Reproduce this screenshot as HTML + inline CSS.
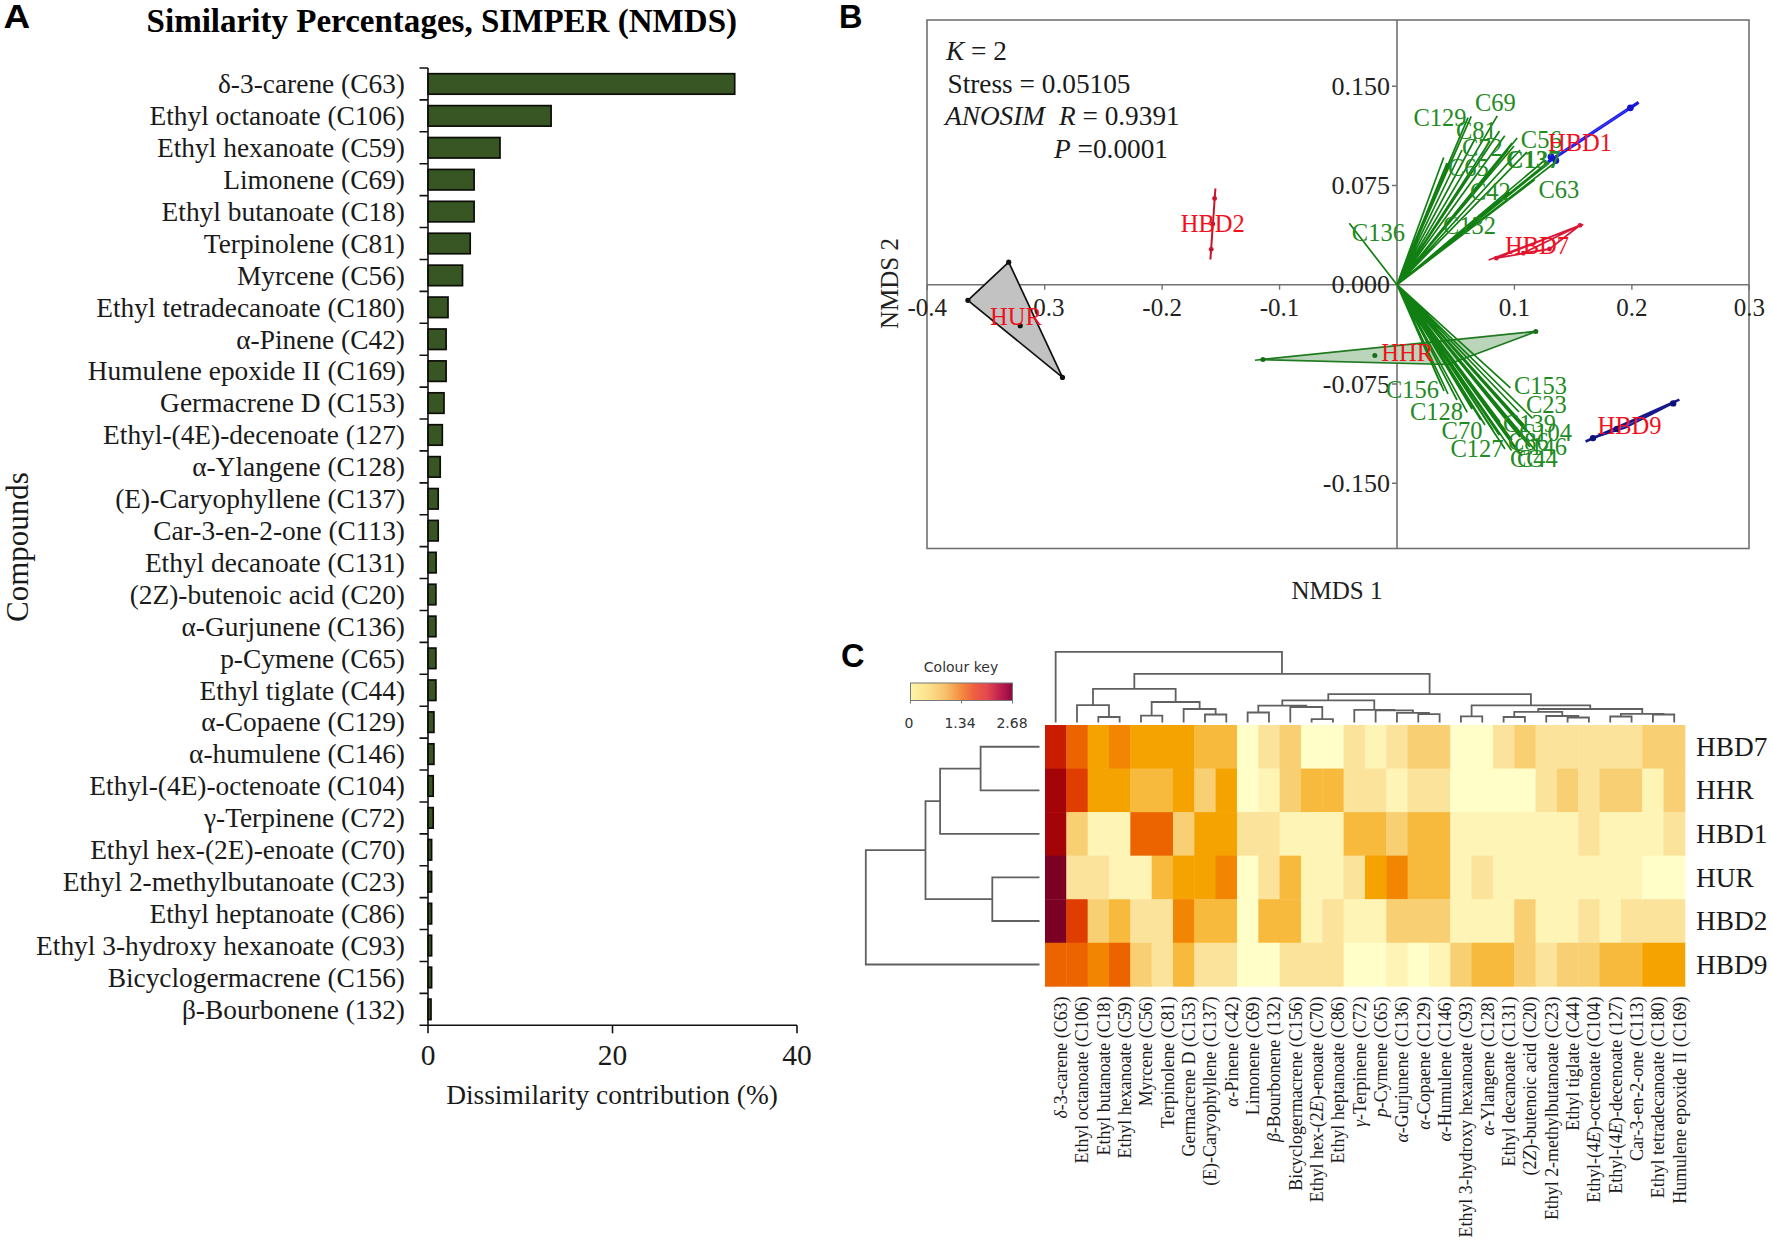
<!DOCTYPE html>
<html><head><meta charset="utf-8"><title>SIMPER / NMDS / heatmap</title>
<style>
html,body{margin:0;padding:0;background:#fff;}
body{width:1772px;height:1243px;overflow:hidden;}
svg{display:block;}
</style></head>
<body>
<svg width="1772" height="1243" viewBox="0 0 1772 1243">
<rect width="1772" height="1243" fill="#fff"/>
<text transform="translate(3.6 28.3) scale(1.12 1)" font-family="'Liberation Sans', Arial, sans-serif" font-weight="bold" font-size="33">A</text>
<text x="146.6" y="32.2" font-family="'Liberation Serif', 'Times New Roman', serif" font-weight="bold" font-size="33.05">Similarity Percentages, SIMPER (NMDS)</text>
<rect x="428" y="73.7" width="306.7" height="20.5" fill="#375624" stroke="#0d0d08" stroke-width="1.7"/>
<text x="405" y="93.25" text-anchor="end" font-family="'Liberation Serif', 'Times New Roman', serif" font-size="27.4" fill="#1a1a1a"><tspan>δ</tspan>-3-carene (C63)</text>
<rect x="428" y="105.62" width="123.1" height="20.5" fill="#375624" stroke="#0d0d08" stroke-width="1.7"/>
<text x="405" y="125.17" text-anchor="end" font-family="'Liberation Serif', 'Times New Roman', serif" font-size="27.4" fill="#1a1a1a">Ethyl octanoate (C106)</text>
<rect x="428" y="137.53" width="72" height="20.5" fill="#375624" stroke="#0d0d08" stroke-width="1.7"/>
<text x="405" y="157.08" text-anchor="end" font-family="'Liberation Serif', 'Times New Roman', serif" font-size="27.4" fill="#1a1a1a">Ethyl hexanoate (C59)</text>
<rect x="428" y="169.44" width="46.1" height="20.5" fill="#375624" stroke="#0d0d08" stroke-width="1.7"/>
<text x="405" y="188.99" text-anchor="end" font-family="'Liberation Serif', 'Times New Roman', serif" font-size="27.4" fill="#1a1a1a">Limonene (C69)</text>
<rect x="428" y="201.34" width="46.1" height="20.5" fill="#375624" stroke="#0d0d08" stroke-width="1.7"/>
<text x="405" y="220.9" text-anchor="end" font-family="'Liberation Serif', 'Times New Roman', serif" font-size="27.4" fill="#1a1a1a">Ethyl butanoate (C18)</text>
<rect x="428" y="233.25" width="42.2" height="20.5" fill="#375624" stroke="#0d0d08" stroke-width="1.7"/>
<text x="405" y="252.81" text-anchor="end" font-family="'Liberation Serif', 'Times New Roman', serif" font-size="27.4" fill="#1a1a1a">Terpinolene (C81)</text>
<rect x="428" y="265.16" width="34.5" height="20.5" fill="#375624" stroke="#0d0d08" stroke-width="1.7"/>
<text x="405" y="284.71" text-anchor="end" font-family="'Liberation Serif', 'Times New Roman', serif" font-size="27.4" fill="#1a1a1a">Myrcene (C56)</text>
<rect x="428" y="297.07" width="20" height="20.5" fill="#375624" stroke="#0d0d08" stroke-width="1.7"/>
<text x="405" y="316.62" text-anchor="end" font-family="'Liberation Serif', 'Times New Roman', serif" font-size="27.4" fill="#1a1a1a">Ethyl tetradecanoate (C180)</text>
<rect x="428" y="328.99" width="18.1" height="20.5" fill="#375624" stroke="#0d0d08" stroke-width="1.7"/>
<text x="405" y="348.54" text-anchor="end" font-family="'Liberation Serif', 'Times New Roman', serif" font-size="27.4" fill="#1a1a1a">α-Pinene (C42)</text>
<rect x="428" y="360.89" width="18.1" height="20.5" fill="#375624" stroke="#0d0d08" stroke-width="1.7"/>
<text x="405" y="380.44" text-anchor="end" font-family="'Liberation Serif', 'Times New Roman', serif" font-size="27.4" fill="#1a1a1a">Humulene epoxide II (C169)</text>
<rect x="428" y="392.81" width="16" height="20.5" fill="#375624" stroke="#0d0d08" stroke-width="1.7"/>
<text x="405" y="412.36" text-anchor="end" font-family="'Liberation Serif', 'Times New Roman', serif" font-size="27.4" fill="#1a1a1a">Germacrene D (C153)</text>
<rect x="428" y="424.71" width="14.3" height="20.5" fill="#375624" stroke="#0d0d08" stroke-width="1.7"/>
<text x="405" y="444.26" text-anchor="end" font-family="'Liberation Serif', 'Times New Roman', serif" font-size="27.4" fill="#1a1a1a">Ethyl-(4E)-decenoate (127)</text>
<rect x="428" y="456.62" width="12.2" height="20.5" fill="#375624" stroke="#0d0d08" stroke-width="1.7"/>
<text x="405" y="476.18" text-anchor="end" font-family="'Liberation Serif', 'Times New Roman', serif" font-size="27.4" fill="#1a1a1a">α-Ylangene (C128)</text>
<rect x="428" y="488.54" width="10.2" height="20.5" fill="#375624" stroke="#0d0d08" stroke-width="1.7"/>
<text x="405" y="508.09" text-anchor="end" font-family="'Liberation Serif', 'Times New Roman', serif" font-size="27.4" fill="#1a1a1a">(E)-Caryophyllene (C137)</text>
<rect x="428" y="520.44" width="10.2" height="20.5" fill="#375624" stroke="#0d0d08" stroke-width="1.7"/>
<text x="405" y="539.99" text-anchor="end" font-family="'Liberation Serif', 'Times New Roman', serif" font-size="27.4" fill="#1a1a1a">Car-3-en-2-one (C113)</text>
<rect x="428" y="552.36" width="8.1" height="20.5" fill="#375624" stroke="#0d0d08" stroke-width="1.7"/>
<text x="405" y="571.9" text-anchor="end" font-family="'Liberation Serif', 'Times New Roman', serif" font-size="27.4" fill="#1a1a1a">Ethyl decanoate (C131)</text>
<rect x="428" y="584.26" width="7.9" height="20.5" fill="#375624" stroke="#0d0d08" stroke-width="1.7"/>
<text x="405" y="603.81" text-anchor="end" font-family="'Liberation Serif', 'Times New Roman', serif" font-size="27.4" fill="#1a1a1a">(2Z)-butenoic acid (C20)</text>
<rect x="428" y="616.17" width="7.9" height="20.5" fill="#375624" stroke="#0d0d08" stroke-width="1.7"/>
<text x="405" y="635.72" text-anchor="end" font-family="'Liberation Serif', 'Times New Roman', serif" font-size="27.4" fill="#1a1a1a">α-Gurjunene (C136)</text>
<rect x="428" y="648.09" width="7.9" height="20.5" fill="#375624" stroke="#0d0d08" stroke-width="1.7"/>
<text x="405" y="667.63" text-anchor="end" font-family="'Liberation Serif', 'Times New Roman', serif" font-size="27.4" fill="#1a1a1a">p-Cymene (C65)</text>
<rect x="428" y="680" width="7.9" height="20.5" fill="#375624" stroke="#0d0d08" stroke-width="1.7"/>
<text x="405" y="699.54" text-anchor="end" font-family="'Liberation Serif', 'Times New Roman', serif" font-size="27.4" fill="#1a1a1a">Ethyl tiglate (C44)</text>
<rect x="428" y="711.9" width="5.9" height="20.5" fill="#375624" stroke="#0d0d08" stroke-width="1.7"/>
<text x="405" y="731.45" text-anchor="end" font-family="'Liberation Serif', 'Times New Roman', serif" font-size="27.4" fill="#1a1a1a">α-Copaene (C129)</text>
<rect x="428" y="743.82" width="5.9" height="20.5" fill="#375624" stroke="#0d0d08" stroke-width="1.7"/>
<text x="405" y="763.37" text-anchor="end" font-family="'Liberation Serif', 'Times New Roman', serif" font-size="27.4" fill="#1a1a1a">α-humulene (C146)</text>
<rect x="428" y="775.73" width="5.2" height="20.5" fill="#375624" stroke="#0d0d08" stroke-width="1.7"/>
<text x="405" y="795.27" text-anchor="end" font-family="'Liberation Serif', 'Times New Roman', serif" font-size="27.4" fill="#1a1a1a">Ethyl-(4E)-octenoate (C104)</text>
<rect x="428" y="807.63" width="5.2" height="20.5" fill="#375624" stroke="#0d0d08" stroke-width="1.7"/>
<text x="405" y="827.18" text-anchor="end" font-family="'Liberation Serif', 'Times New Roman', serif" font-size="27.4" fill="#1a1a1a">γ-Terpinene (C72)</text>
<rect x="428" y="839.54" width="3.6" height="20.5" fill="#375624" stroke="#0d0d08" stroke-width="1.7"/>
<text x="405" y="859.09" text-anchor="end" font-family="'Liberation Serif', 'Times New Roman', serif" font-size="27.4" fill="#1a1a1a">Ethyl hex-(2E)-enoate (C70)</text>
<rect x="428" y="871.46" width="3.6" height="20.5" fill="#375624" stroke="#0d0d08" stroke-width="1.7"/>
<text x="405" y="891" text-anchor="end" font-family="'Liberation Serif', 'Times New Roman', serif" font-size="27.4" fill="#1a1a1a">Ethyl 2-methylbutanoate (C23)</text>
<rect x="428" y="903.37" width="3.6" height="20.5" fill="#375624" stroke="#0d0d08" stroke-width="1.7"/>
<text x="405" y="922.91" text-anchor="end" font-family="'Liberation Serif', 'Times New Roman', serif" font-size="27.4" fill="#1a1a1a">Ethyl heptanoate (C86)</text>
<rect x="428" y="935.27" width="3.6" height="20.5" fill="#375624" stroke="#0d0d08" stroke-width="1.7"/>
<text x="405" y="954.82" text-anchor="end" font-family="'Liberation Serif', 'Times New Roman', serif" font-size="27.4" fill="#1a1a1a">Ethyl 3-hydroxy hexanoate (C93)</text>
<rect x="428" y="967.19" width="3.6" height="20.5" fill="#375624" stroke="#0d0d08" stroke-width="1.7"/>
<text x="405" y="986.74" text-anchor="end" font-family="'Liberation Serif', 'Times New Roman', serif" font-size="27.4" fill="#1a1a1a">Bicyclogermacrene (C156)</text>
<rect x="428" y="999.1" width="3" height="20.5" fill="#375624" stroke="#0d0d08" stroke-width="1.7"/>
<text x="405" y="1018.64" text-anchor="end" font-family="'Liberation Serif', 'Times New Roman', serif" font-size="27.4" fill="#1a1a1a">β-Bourbonene (132)</text>
<path d="M428 68V1025.3H797" fill="none" stroke="#111" stroke-width="1.6"/>
<path d="M419.5 68H428M419.5 99.91H428M419.5 131.82H428M419.5 163.73H428M419.5 195.64H428M419.5 227.55H428M419.5 259.46H428M419.5 291.37H428M419.5 323.28H428M419.5 355.19H428M419.5 387.1H428M419.5 419.01H428M419.5 450.92H428M419.5 482.83H428M419.5 514.74H428M419.5 546.65H428M419.5 578.56H428M419.5 610.47H428M419.5 642.38H428M419.5 674.29H428M419.5 706.2H428M419.5 738.11H428M419.5 770.02H428M419.5 801.93H428M419.5 833.84H428M419.5 865.75H428M419.5 897.66H428M419.5 929.57H428M419.5 961.48H428M419.5 993.39H428M419.5 1025.3H428" stroke="#111" stroke-width="1.6"/>
<path d="M428 1025.3v8" stroke="#111" stroke-width="1.6"/>
<text x="428" y="1065" text-anchor="middle" font-family="'Liberation Serif', 'Times New Roman', serif" font-size="29.5" fill="#1a1a1a">0</text>
<path d="M612.5 1025.3v8" stroke="#111" stroke-width="1.6"/>
<text x="612.5" y="1065" text-anchor="middle" font-family="'Liberation Serif', 'Times New Roman', serif" font-size="29.5" fill="#1a1a1a">20</text>
<path d="M797 1025.3v8" stroke="#111" stroke-width="1.6"/>
<text x="797" y="1065" text-anchor="middle" font-family="'Liberation Serif', 'Times New Roman', serif" font-size="29.5" fill="#1a1a1a">40</text>
<text x="612" y="1104" text-anchor="middle" font-family="'Liberation Serif', 'Times New Roman', serif" font-size="27.4" fill="#1a1a1a">Dissimilarity contribution (%)</text>
<text transform="translate(28 547) rotate(-90)" text-anchor="middle" font-family="'Liberation Serif', 'Times New Roman', serif" font-size="31" fill="#1a1a1a">Compounds</text>
<text x="839" y="28" font-family="'Liberation Sans', Arial, sans-serif" font-weight="bold" font-size="32.5">B</text>
<rect x="927" y="20" width="822" height="528.5" fill="none" stroke="#727272" stroke-width="1.6"/>
<path d="M927 284.7H1749M1397 20V548.5" stroke="#727272" stroke-width="1.6"/>
<path d="M927.28 284.7v5M1044.71 284.7v5M1162.14 284.7v5M1279.57 284.7v5M1514.43 284.7v5M1631.86 284.7v5M1749.29 284.7v5M1397 86.21h-5M1397 185.45h-5M1397 383.95h-5M1397 483.19h-5" stroke="#727272" stroke-width="1.4"/>
<text x="927.28" y="315.5" text-anchor="middle" font-family="'Liberation Serif', 'Times New Roman', serif" font-size="25" fill="#222">-0.4</text>
<text x="1044.71" y="315.5" text-anchor="middle" font-family="'Liberation Serif', 'Times New Roman', serif" font-size="25" fill="#222">-0.3</text>
<text x="1162.14" y="315.5" text-anchor="middle" font-family="'Liberation Serif', 'Times New Roman', serif" font-size="25" fill="#222">-0.2</text>
<text x="1279.57" y="315.5" text-anchor="middle" font-family="'Liberation Serif', 'Times New Roman', serif" font-size="25" fill="#222">-0.1</text>
<text x="1514.43" y="315.5" text-anchor="middle" font-family="'Liberation Serif', 'Times New Roman', serif" font-size="25" fill="#222">0.1</text>
<text x="1631.86" y="315.5" text-anchor="middle" font-family="'Liberation Serif', 'Times New Roman', serif" font-size="25" fill="#222">0.2</text>
<text x="1749.29" y="315.5" text-anchor="middle" font-family="'Liberation Serif', 'Times New Roman', serif" font-size="25" fill="#222">0.3</text>
<text x="1390" y="94.81" text-anchor="end" font-family="'Liberation Serif', 'Times New Roman', serif" font-size="26" fill="#222">0.150</text>
<text x="1390" y="194.05" text-anchor="end" font-family="'Liberation Serif', 'Times New Roman', serif" font-size="26" fill="#222">0.075</text>
<text x="1390" y="293.3" text-anchor="end" font-family="'Liberation Serif', 'Times New Roman', serif" font-size="26" fill="#222">0.000</text>
<text x="1390" y="392.55" text-anchor="end" font-family="'Liberation Serif', 'Times New Roman', serif" font-size="26" fill="#222">-0.075</text>
<text x="1390" y="491.79" text-anchor="end" font-family="'Liberation Serif', 'Times New Roman', serif" font-size="26" fill="#222">-0.150</text>
<text x="1337" y="598.8" text-anchor="middle" font-family="'Liberation Serif', 'Times New Roman', serif" font-size="25" fill="#222">NMDS 1</text>
<text transform="translate(898 283.5) rotate(-90)" text-anchor="middle" font-family="'Liberation Serif', 'Times New Roman', serif" font-size="25" fill="#222">NMDS 2</text>
<g font-family="'Liberation Serif', 'Times New Roman', serif" font-size="27.3" fill="#1a1a1a">
<text x="946" y="60.1"><tspan font-style="italic">K</tspan> = 2</text>
<text x="947.5" y="93.1">Stress = 0.05105</text>
<text x="945" y="124.6"><tspan font-style="italic">ANOSIM</tspan> <tspan font-style="italic" dx="7">R</tspan> = 0.9391</text>
<text x="1054" y="157.7"><tspan font-style="italic">P</tspan> =0.0001</text>
</g>
<polygon points="1008.7,262.2 967.9,300.3 1062.5,377.4" fill="#c2c2c2" stroke="#111" stroke-width="1.7" stroke-linejoin="round"/>
<circle cx="1008.7" cy="262.2" r="2.6" fill="#111"/>
<circle cx="967.9" cy="300.3" r="2.6" fill="#111"/>
<circle cx="1062.5" cy="377.4" r="2.6" fill="#111"/>
<circle cx="1020.2" cy="325.7" r="2.6" fill="#111"/>
<path d="M1215.4 188.5L1210.4 259.5" stroke="#c8142a" stroke-width="2"/>
<circle cx="1214.6" cy="198.4" r="2.4" fill="#c8142a"/>
<circle cx="1212.8" cy="224" r="2.4" fill="#c8142a"/>
<circle cx="1211.2" cy="249.3" r="2.4" fill="#c8142a"/>
<polygon points="1260.6,359.6 1448,364.5 1536.9,331.2" fill="#b2d0b2" fill-opacity="0.9" stroke="#217a21" stroke-width="1.7" stroke-linejoin="round"/>
<path d="M1397.0 284.7L1349.3 223.3M1397.0 284.7L1443.7 157.5M1397.0 284.7L1447 163M1397.0 284.7L1468 117.7M1397.0 284.7L1471.2 116.4M1397.0 284.7L1497.3 115.9M1397.0 284.7L1499.5 131M1397.0 284.7L1504.8 135.8M1397.0 284.7L1517.2 138M1397.0 284.7L1512 143M1397.0 284.7L1514 146M1397.0 284.7L1508 150M1397.0 284.7L1520 150M1397.0 284.7L1545 160M1397.0 284.7L1549 163M1397.0 284.7L1553 158M1397.0 284.7L1557 161M1397.0 284.7L1534.9 179.6M1397.0 284.7L1509.6 192M1397.0 284.7L1503 196M1397.0 284.7L1462 150M1397.0 284.7L1476 137M1397.0 284.7L1490 141M1397.0 284.7L1527 152M1397.0 284.7L1444 391M1397.0 284.7L1441 385M1397.0 284.7L1448 394M1397.0 284.7L1467.3 412.3M1397.0 284.7L1480.8 420M1397.0 284.7L1485 425M1397.0 284.7L1499.4 435.2M1397.0 284.7L1493 430M1397.0 284.7L1505 449M1397.0 284.7L1511.6 450.6M1397.0 284.7L1510.4 387.8M1397.0 284.7L1532.5 418.3M1397.0 284.7L1519 412M1397.0 284.7L1524 425M1397.0 284.7L1515 428M1397.0 284.7L1520 437M1397.0 284.7L1526 442M1397.0 284.7L1530 447M1397.0 284.7L1518 452M1397.0 284.7L1522 456M1397.0 284.7L1535 450M1397.0 284.7L1512 440M1397.0 284.7L1505 430M1397.0 284.7L1500 422M1397.0 284.7L1527 432M1397.0 284.7L1540 445M1397.0 284.7L1457 400M1397.0 284.7L1472 409" stroke="#127f12" stroke-width="1.7" fill="none"/>
<path d="M1255 360.2L1266 359" stroke="#127f12" stroke-width="1.6"/>
<circle cx="1263" cy="359.4" r="2.5" fill="#1a6e1a"/>
<circle cx="1535.8" cy="331.5" r="2.5" fill="#1a6e1a"/>
<circle cx="1374.8" cy="355.6" r="2.5" fill="#1a6e1a"/>
<path d="M1488.7 260L1583.3 224.5M1496.3 258.2L1580 225.3L1523.3 253.2L1549.5 249L1580 225.3M1496.3 258.2L1549.5 249" stroke="#d81838" stroke-width="1.8" fill="none"/>
<circle cx="1496.3" cy="258.2" r="2.4" fill="#d81838"/>
<circle cx="1580" cy="225.3" r="2.4" fill="#d81838"/>
<circle cx="1523.3" cy="253.2" r="2.4" fill="#d81838"/>
<circle cx="1549.5" cy="249" r="2.4" fill="#d81838"/>
<path d="M1548.2 161.9L1638.6 102.3" stroke="#1a1ae6" stroke-width="3.2" fill="none"/>
<path d="M1553 158L1631 107.5" stroke="#3a3af0" stroke-width="1.2" fill="none"/>
<circle cx="1630.4" cy="107.8" r="3.4" fill="#1414c8"/>
<circle cx="1555.8" cy="160.5" r="3.4" fill="#1414c8"/>
<circle cx="1551" cy="157" r="3.4" fill="#1414c8"/>
<path d="M1585.6 441.5L1679.4 399.6" stroke="#16168e" stroke-width="2.6" fill="none"/>
<path d="M1593 438.1L1673.2 403.4L1625 428Z" stroke="#16168e" stroke-width="1.6" fill="#4a4ab0"/>
<circle cx="1593" cy="438.1" r="3.2" fill="#10107a"/>
<circle cx="1673.2" cy="403.4" r="3.2" fill="#10107a"/>
<circle cx="1617" cy="429" r="3.2" fill="#10107a"/>
<g font-family="'Liberation Serif', 'Times New Roman', serif" font-size="24.5" fill="#238b23">
<text x="1413.5" y="125.6">C129</text>
<text x="1475" y="111.3">C69</text>
<text x="1456" y="139">C81</text>
<text x="1462" y="156">C72</text>
<text x="1448" y="175.5">C65</text>
<text x="1520.8" y="147.6">C56</text>
<text x="1470" y="200">C42</text>
<text x="1538.5" y="198">C63</text>
<text x="1443" y="233.7">C132</text>
<text x="1351.8" y="240.5">C136</text>
<text x="1514" y="394.3">C153</text>
<text x="1526" y="412.8">C23</text>
<text x="1386" y="398.3">C156</text>
<text x="1410" y="420">C128</text>
<text x="1441.6" y="439.3">C70</text>
<text x="1450.5" y="457">C127</text>
<text x="1503" y="432">C139</text>
<text x="1519" y="441">C104</text>
<text x="1514" y="454.6">C146</text>
<text x="1517" y="466.7">C44</text>
<text x="1510" y="466.7">CC</text>
<text x="1508" y="450">C86</text>
<text x="1506" y="168" font-weight="bold">C137</text>
</g>
<g font-family="'Liberation Serif', 'Times New Roman', serif" font-size="24.5" fill="#f2101c">
<text x="1548" y="150.5">HBD1</text>
<text x="1180.7" y="232">HBD2</text>
<text x="1505" y="254.4">HBD7</text>
<text x="990" y="324.6">HUR</text>
<text x="1381.3" y="360.5">HHR</text>
<text x="1597.5" y="434">HBD9</text>
</g>
<text x="841" y="667" font-family="'Liberation Sans', Arial, sans-serif" font-weight="bold" font-size="32.5">C</text>
<rect x="1045" y="725" width="21.73" height="43.95" fill="#C91D00"/>
<rect x="1045" y="768.55" width="21.73" height="43.95" fill="#A40408"/>
<rect x="1045" y="812.1" width="21.73" height="43.95" fill="#A40408"/>
<rect x="1045" y="855.65" width="21.73" height="43.95" fill="#7C0024"/>
<rect x="1045" y="899.2" width="21.73" height="43.95" fill="#7C0024"/>
<rect x="1045" y="942.75" width="21.73" height="43.95" fill="#EC6400"/>
<rect x="1066.33" y="725" width="21.73" height="43.95" fill="#EC6400"/>
<rect x="1066.33" y="768.55" width="21.73" height="43.95" fill="#E03E00"/>
<rect x="1066.33" y="812.1" width="21.73" height="43.95" fill="#F8D073"/>
<rect x="1066.33" y="855.65" width="21.73" height="43.95" fill="#FBE39B"/>
<rect x="1066.33" y="899.2" width="21.73" height="43.95" fill="#E03E00"/>
<rect x="1066.33" y="942.75" width="21.73" height="43.95" fill="#EC6400"/>
<rect x="1087.66" y="725" width="21.73" height="43.95" fill="#F4A300"/>
<rect x="1087.66" y="768.55" width="21.73" height="43.95" fill="#F4A300"/>
<rect x="1087.66" y="812.1" width="21.73" height="43.95" fill="#FDF4B5"/>
<rect x="1087.66" y="855.65" width="21.73" height="43.95" fill="#FBE39B"/>
<rect x="1087.66" y="899.2" width="21.73" height="43.95" fill="#F8D073"/>
<rect x="1087.66" y="942.75" width="21.73" height="43.95" fill="#F28602"/>
<rect x="1108.99" y="725" width="21.73" height="43.95" fill="#F28602"/>
<rect x="1108.99" y="768.55" width="21.73" height="43.95" fill="#F4A300"/>
<rect x="1108.99" y="812.1" width="21.73" height="43.95" fill="#FDF4B5"/>
<rect x="1108.99" y="855.65" width="21.73" height="43.95" fill="#FDF4B5"/>
<rect x="1108.99" y="899.2" width="21.73" height="43.95" fill="#F8BA3C"/>
<rect x="1108.99" y="942.75" width="21.73" height="43.95" fill="#EC6400"/>
<rect x="1130.32" y="725" width="21.73" height="43.95" fill="#F4A300"/>
<rect x="1130.32" y="768.55" width="21.73" height="43.95" fill="#F8BA3C"/>
<rect x="1130.32" y="812.1" width="21.73" height="43.95" fill="#EC6400"/>
<rect x="1130.32" y="855.65" width="21.73" height="43.95" fill="#FDF4B5"/>
<rect x="1130.32" y="899.2" width="21.73" height="43.95" fill="#FBE39B"/>
<rect x="1130.32" y="942.75" width="21.73" height="43.95" fill="#F8D073"/>
<rect x="1151.65" y="725" width="21.73" height="43.95" fill="#F4A300"/>
<rect x="1151.65" y="768.55" width="21.73" height="43.95" fill="#F8BA3C"/>
<rect x="1151.65" y="812.1" width="21.73" height="43.95" fill="#EC6400"/>
<rect x="1151.65" y="855.65" width="21.73" height="43.95" fill="#F8BA3C"/>
<rect x="1151.65" y="899.2" width="21.73" height="43.95" fill="#FBE39B"/>
<rect x="1151.65" y="942.75" width="21.73" height="43.95" fill="#FBE39B"/>
<rect x="1172.98" y="725" width="21.73" height="43.95" fill="#F4A300"/>
<rect x="1172.98" y="768.55" width="21.73" height="43.95" fill="#F4A300"/>
<rect x="1172.98" y="812.1" width="21.73" height="43.95" fill="#F8D073"/>
<rect x="1172.98" y="855.65" width="21.73" height="43.95" fill="#F4A300"/>
<rect x="1172.98" y="899.2" width="21.73" height="43.95" fill="#F28602"/>
<rect x="1172.98" y="942.75" width="21.73" height="43.95" fill="#F8BA3C"/>
<rect x="1194.31" y="725" width="21.73" height="43.95" fill="#F8BA3C"/>
<rect x="1194.31" y="768.55" width="21.73" height="43.95" fill="#F8D073"/>
<rect x="1194.31" y="812.1" width="21.73" height="43.95" fill="#F4A300"/>
<rect x="1194.31" y="855.65" width="21.73" height="43.95" fill="#F4A300"/>
<rect x="1194.31" y="899.2" width="21.73" height="43.95" fill="#F8BA3C"/>
<rect x="1194.31" y="942.75" width="21.73" height="43.95" fill="#FBE39B"/>
<rect x="1215.64" y="725" width="21.73" height="43.95" fill="#F8BA3C"/>
<rect x="1215.64" y="768.55" width="21.73" height="43.95" fill="#F4A300"/>
<rect x="1215.64" y="812.1" width="21.73" height="43.95" fill="#F4A300"/>
<rect x="1215.64" y="855.65" width="21.73" height="43.95" fill="#F28602"/>
<rect x="1215.64" y="899.2" width="21.73" height="43.95" fill="#F8BA3C"/>
<rect x="1215.64" y="942.75" width="21.73" height="43.95" fill="#FBE39B"/>
<rect x="1236.97" y="725" width="21.73" height="43.95" fill="#FFFEC9"/>
<rect x="1236.97" y="768.55" width="21.73" height="43.95" fill="#FFFEC9"/>
<rect x="1236.97" y="812.1" width="21.73" height="43.95" fill="#FBE39B"/>
<rect x="1236.97" y="855.65" width="21.73" height="43.95" fill="#FFFEC9"/>
<rect x="1236.97" y="899.2" width="21.73" height="43.95" fill="#FFFEC9"/>
<rect x="1236.97" y="942.75" width="21.73" height="43.95" fill="#FFFEC9"/>
<rect x="1258.3" y="725" width="21.73" height="43.95" fill="#FBE39B"/>
<rect x="1258.3" y="768.55" width="21.73" height="43.95" fill="#FDF4B5"/>
<rect x="1258.3" y="812.1" width="21.73" height="43.95" fill="#FBE39B"/>
<rect x="1258.3" y="855.65" width="21.73" height="43.95" fill="#FBE39B"/>
<rect x="1258.3" y="899.2" width="21.73" height="43.95" fill="#F8BA3C"/>
<rect x="1258.3" y="942.75" width="21.73" height="43.95" fill="#FFFEC9"/>
<rect x="1279.63" y="725" width="21.73" height="43.95" fill="#F8D073"/>
<rect x="1279.63" y="768.55" width="21.73" height="43.95" fill="#F8D073"/>
<rect x="1279.63" y="812.1" width="21.73" height="43.95" fill="#FDF4B5"/>
<rect x="1279.63" y="855.65" width="21.73" height="43.95" fill="#F8BA3C"/>
<rect x="1279.63" y="899.2" width="21.73" height="43.95" fill="#F8BA3C"/>
<rect x="1279.63" y="942.75" width="21.73" height="43.95" fill="#FBE39B"/>
<rect x="1300.96" y="725" width="21.73" height="43.95" fill="#FFFEC9"/>
<rect x="1300.96" y="768.55" width="21.73" height="43.95" fill="#F8BA3C"/>
<rect x="1300.96" y="812.1" width="21.73" height="43.95" fill="#FDF4B5"/>
<rect x="1300.96" y="855.65" width="21.73" height="43.95" fill="#FDF4B5"/>
<rect x="1300.96" y="899.2" width="21.73" height="43.95" fill="#FDF4B5"/>
<rect x="1300.96" y="942.75" width="21.73" height="43.95" fill="#FBE39B"/>
<rect x="1322.29" y="725" width="21.73" height="43.95" fill="#FFFEC9"/>
<rect x="1322.29" y="768.55" width="21.73" height="43.95" fill="#F8BA3C"/>
<rect x="1322.29" y="812.1" width="21.73" height="43.95" fill="#FDF4B5"/>
<rect x="1322.29" y="855.65" width="21.73" height="43.95" fill="#FDF4B5"/>
<rect x="1322.29" y="899.2" width="21.73" height="43.95" fill="#FBE39B"/>
<rect x="1322.29" y="942.75" width="21.73" height="43.95" fill="#FBE39B"/>
<rect x="1343.62" y="725" width="21.73" height="43.95" fill="#FBE39B"/>
<rect x="1343.62" y="768.55" width="21.73" height="43.95" fill="#FBE39B"/>
<rect x="1343.62" y="812.1" width="21.73" height="43.95" fill="#F8BA3C"/>
<rect x="1343.62" y="855.65" width="21.73" height="43.95" fill="#FBE39B"/>
<rect x="1343.62" y="899.2" width="21.73" height="43.95" fill="#FDF4B5"/>
<rect x="1343.62" y="942.75" width="21.73" height="43.95" fill="#FFFEC9"/>
<rect x="1364.95" y="725" width="21.73" height="43.95" fill="#FDF4B5"/>
<rect x="1364.95" y="768.55" width="21.73" height="43.95" fill="#FBE39B"/>
<rect x="1364.95" y="812.1" width="21.73" height="43.95" fill="#F8BA3C"/>
<rect x="1364.95" y="855.65" width="21.73" height="43.95" fill="#F4A300"/>
<rect x="1364.95" y="899.2" width="21.73" height="43.95" fill="#FDF4B5"/>
<rect x="1364.95" y="942.75" width="21.73" height="43.95" fill="#FFFEC9"/>
<rect x="1386.28" y="725" width="21.73" height="43.95" fill="#FBE39B"/>
<rect x="1386.28" y="768.55" width="21.73" height="43.95" fill="#FDF4B5"/>
<rect x="1386.28" y="812.1" width="21.73" height="43.95" fill="#F8D073"/>
<rect x="1386.28" y="855.65" width="21.73" height="43.95" fill="#F28602"/>
<rect x="1386.28" y="899.2" width="21.73" height="43.95" fill="#F8D073"/>
<rect x="1386.28" y="942.75" width="21.73" height="43.95" fill="#FDF4B5"/>
<rect x="1407.61" y="725" width="21.73" height="43.95" fill="#F8D073"/>
<rect x="1407.61" y="768.55" width="21.73" height="43.95" fill="#FBE39B"/>
<rect x="1407.61" y="812.1" width="21.73" height="43.95" fill="#F8BA3C"/>
<rect x="1407.61" y="855.65" width="21.73" height="43.95" fill="#F8BA3C"/>
<rect x="1407.61" y="899.2" width="21.73" height="43.95" fill="#F8D073"/>
<rect x="1407.61" y="942.75" width="21.73" height="43.95" fill="#FFFEC9"/>
<rect x="1428.94" y="725" width="21.73" height="43.95" fill="#F8D073"/>
<rect x="1428.94" y="768.55" width="21.73" height="43.95" fill="#FBE39B"/>
<rect x="1428.94" y="812.1" width="21.73" height="43.95" fill="#F8BA3C"/>
<rect x="1428.94" y="855.65" width="21.73" height="43.95" fill="#F8BA3C"/>
<rect x="1428.94" y="899.2" width="21.73" height="43.95" fill="#F8D073"/>
<rect x="1428.94" y="942.75" width="21.73" height="43.95" fill="#FDF4B5"/>
<rect x="1450.27" y="725" width="21.73" height="43.95" fill="#FFFEC9"/>
<rect x="1450.27" y="768.55" width="21.73" height="43.95" fill="#FFFEC9"/>
<rect x="1450.27" y="812.1" width="21.73" height="43.95" fill="#FDF4B5"/>
<rect x="1450.27" y="855.65" width="21.73" height="43.95" fill="#FDF4B5"/>
<rect x="1450.27" y="899.2" width="21.73" height="43.95" fill="#FDF4B5"/>
<rect x="1450.27" y="942.75" width="21.73" height="43.95" fill="#F8D073"/>
<rect x="1471.6" y="725" width="21.73" height="43.95" fill="#FFFEC9"/>
<rect x="1471.6" y="768.55" width="21.73" height="43.95" fill="#FFFEC9"/>
<rect x="1471.6" y="812.1" width="21.73" height="43.95" fill="#FDF4B5"/>
<rect x="1471.6" y="855.65" width="21.73" height="43.95" fill="#FBE39B"/>
<rect x="1471.6" y="899.2" width="21.73" height="43.95" fill="#FDF4B5"/>
<rect x="1471.6" y="942.75" width="21.73" height="43.95" fill="#F8BA3C"/>
<rect x="1492.93" y="725" width="21.73" height="43.95" fill="#FBE39B"/>
<rect x="1492.93" y="768.55" width="21.73" height="43.95" fill="#FFFEC9"/>
<rect x="1492.93" y="812.1" width="21.73" height="43.95" fill="#FDF4B5"/>
<rect x="1492.93" y="855.65" width="21.73" height="43.95" fill="#FDF4B5"/>
<rect x="1492.93" y="899.2" width="21.73" height="43.95" fill="#FDF4B5"/>
<rect x="1492.93" y="942.75" width="21.73" height="43.95" fill="#F8BA3C"/>
<rect x="1514.26" y="725" width="21.73" height="43.95" fill="#F8D073"/>
<rect x="1514.26" y="768.55" width="21.73" height="43.95" fill="#FFFEC9"/>
<rect x="1514.26" y="812.1" width="21.73" height="43.95" fill="#FDF4B5"/>
<rect x="1514.26" y="855.65" width="21.73" height="43.95" fill="#FDF4B5"/>
<rect x="1514.26" y="899.2" width="21.73" height="43.95" fill="#F8D073"/>
<rect x="1514.26" y="942.75" width="21.73" height="43.95" fill="#F8D073"/>
<rect x="1535.59" y="725" width="21.73" height="43.95" fill="#FBE39B"/>
<rect x="1535.59" y="768.55" width="21.73" height="43.95" fill="#FBE39B"/>
<rect x="1535.59" y="812.1" width="21.73" height="43.95" fill="#FDF4B5"/>
<rect x="1535.59" y="855.65" width="21.73" height="43.95" fill="#FDF4B5"/>
<rect x="1535.59" y="899.2" width="21.73" height="43.95" fill="#FDF4B5"/>
<rect x="1535.59" y="942.75" width="21.73" height="43.95" fill="#FBE39B"/>
<rect x="1556.92" y="725" width="21.73" height="43.95" fill="#FBE39B"/>
<rect x="1556.92" y="768.55" width="21.73" height="43.95" fill="#F8D073"/>
<rect x="1556.92" y="812.1" width="21.73" height="43.95" fill="#FDF4B5"/>
<rect x="1556.92" y="855.65" width="21.73" height="43.95" fill="#FDF4B5"/>
<rect x="1556.92" y="899.2" width="21.73" height="43.95" fill="#FDF4B5"/>
<rect x="1556.92" y="942.75" width="21.73" height="43.95" fill="#F8D073"/>
<rect x="1578.25" y="725" width="21.73" height="43.95" fill="#FBE39B"/>
<rect x="1578.25" y="768.55" width="21.73" height="43.95" fill="#FBE39B"/>
<rect x="1578.25" y="812.1" width="21.73" height="43.95" fill="#FBE39B"/>
<rect x="1578.25" y="855.65" width="21.73" height="43.95" fill="#FDF4B5"/>
<rect x="1578.25" y="899.2" width="21.73" height="43.95" fill="#FBE39B"/>
<rect x="1578.25" y="942.75" width="21.73" height="43.95" fill="#F8D073"/>
<rect x="1599.58" y="725" width="21.73" height="43.95" fill="#FBE39B"/>
<rect x="1599.58" y="768.55" width="21.73" height="43.95" fill="#F8D073"/>
<rect x="1599.58" y="812.1" width="21.73" height="43.95" fill="#FDF4B5"/>
<rect x="1599.58" y="855.65" width="21.73" height="43.95" fill="#FDF4B5"/>
<rect x="1599.58" y="899.2" width="21.73" height="43.95" fill="#FDF4B5"/>
<rect x="1599.58" y="942.75" width="21.73" height="43.95" fill="#F8BA3C"/>
<rect x="1620.91" y="725" width="21.73" height="43.95" fill="#FBE39B"/>
<rect x="1620.91" y="768.55" width="21.73" height="43.95" fill="#F8D073"/>
<rect x="1620.91" y="812.1" width="21.73" height="43.95" fill="#FDF4B5"/>
<rect x="1620.91" y="855.65" width="21.73" height="43.95" fill="#FDF4B5"/>
<rect x="1620.91" y="899.2" width="21.73" height="43.95" fill="#FBE39B"/>
<rect x="1620.91" y="942.75" width="21.73" height="43.95" fill="#F8BA3C"/>
<rect x="1642.24" y="725" width="21.73" height="43.95" fill="#F8D073"/>
<rect x="1642.24" y="768.55" width="21.73" height="43.95" fill="#FDF4B5"/>
<rect x="1642.24" y="812.1" width="21.73" height="43.95" fill="#FDF4B5"/>
<rect x="1642.24" y="855.65" width="21.73" height="43.95" fill="#FFFEC9"/>
<rect x="1642.24" y="899.2" width="21.73" height="43.95" fill="#FBE39B"/>
<rect x="1642.24" y="942.75" width="21.73" height="43.95" fill="#F4A300"/>
<rect x="1663.57" y="725" width="21.73" height="43.95" fill="#F8D073"/>
<rect x="1663.57" y="768.55" width="21.73" height="43.95" fill="#F8D073"/>
<rect x="1663.57" y="812.1" width="21.73" height="43.95" fill="#FBE39B"/>
<rect x="1663.57" y="855.65" width="21.73" height="43.95" fill="#FFFEC9"/>
<rect x="1663.57" y="899.2" width="21.73" height="43.95" fill="#FBE39B"/>
<rect x="1663.57" y="942.75" width="21.73" height="43.95" fill="#F4A300"/>
<defs><linearGradient id="ck" x1="0" x2="1" y1="0" y2="0"><stop offset="0" stop-color="#FDF6A8"/><stop offset="0.2" stop-color="#FBDC88"/><stop offset="0.35" stop-color="#F8BE6A"/><stop offset="0.5" stop-color="#F48A3E"/><stop offset="0.62" stop-color="#EF6040"/><stop offset="0.75" stop-color="#E4484E"/><stop offset="0.88" stop-color="#BE2050"/><stop offset="1" stop-color="#8E0840"/></linearGradient></defs>
<rect x="910.5" y="683" width="102" height="17.5" fill="url(#ck)" stroke="#777" stroke-width="1"/>
<path d="M910.5 700.5v3M961.5 700.5v3M1012.5 700.5v3" stroke="#777" stroke-width="1"/>
<g font-family="'DejaVu Sans', Verdana, sans-serif" font-size="14" fill="#333" text-anchor="middle">
<text x="961" y="672">Colour key</text>
<text x="909" y="728">0</text><text x="960" y="728">1.34</text><text x="1012" y="728">2.68</text>
</g>
<path d="M1098.33 722.5V717H1119.65V722.5M1076.99 722.5V705.2H1108.99V717M1140.98 722.5V715.7H1162.32V722.5M1204.97 722.5V714.5H1226.31V722.5M1183.64 722.5V709H1215.64V714.5M1151.65 715.7V702H1199.64V709M1092.99 705.2V688.8H1175.65V702M1247.63 722.5V712.5H1268.96V722.5M1311.62 722.5V719.2H1332.95V722.5M1290.3 722.5V707H1322.29V719.2M1258.3 712.5V705.7H1306.29V707M1418.28 722.5V714.2H1439.61V722.5M1396.94 722.5V712.9H1428.94V714.2M1375.62 722.5V710.4H1412.94V712.9M1354.28 722.5V709.8H1394.28V710.4M1282.3 705.7V700.3H1374.28V709.8M1460.93 722.5V716.3H1482.26V722.5M1503.6 722.5V717H1524.92V722.5M1567.59 722.5V717.5H1588.91V722.5M1546.25 722.5V716H1578.25V717.5M1514.26 717V711.9H1562.25V716M1610.24 722.5V716.5H1631.57V722.5M1652.9 722.5V714.5H1674.23V722.5M1620.91 716.5V713.8H1663.57V714.5M1538.26 711.9V709H1642.24V713.8M1471.6 716.3V705.3H1590.25V709M1328.29 700.3V694.2H1530.92V705.3M1134.32 688.8V673.9H1429.61V694.2M1055.66 722.5V651.8H1281.96V673.9" stroke="#606060" stroke-width="1.8" fill="none"/>
<path d="M1039.5 746.77H980.6V790.33H1039.5M980.6 768.55H940.1V833.88H1039.5M1039.5 877.42H992.3V920.98H1039.5M940.1 801.21H925.5V899.2H992.3M925.5 850.21H865.8V964.52H1039.5" stroke="#606060" stroke-width="1.8" fill="none"/>
<g font-family="'Liberation Serif', 'Times New Roman', serif" font-size="27.3" fill="#1a1a1a">
<text x="1696" y="755.88">HBD7</text>
<text x="1696" y="799.43">HHR</text>
<text x="1696" y="842.98">HBD1</text>
<text x="1696" y="886.52">HUR</text>
<text x="1696" y="930.08">HBD2</text>
<text x="1696" y="973.62">HBD9</text>
</g>
<g font-family="'Liberation Serif', 'Times New Roman', serif" font-size="17.9" fill="#1a1a1a" text-anchor="end">
<text transform="translate(1067.16 996.5) rotate(-90)"><tspan font-style="italic">δ</tspan>-3-carene (C63)</text>
<text transform="translate(1088.49 996.5) rotate(-90)">Ethyl octanoate (C106)</text>
<text transform="translate(1109.83 996.5) rotate(-90)">Ethyl butanoate (C18)</text>
<text transform="translate(1131.15 996.5) rotate(-90)">Ethyl hexanoate (C59)</text>
<text transform="translate(1152.48 996.5) rotate(-90)">Myrcene (C56)</text>
<text transform="translate(1173.82 996.5) rotate(-90)">Terpinolene (C81)</text>
<text transform="translate(1195.14 996.5) rotate(-90)">Germacrene D (C153)</text>
<text transform="translate(1216.47 996.5) rotate(-90)">(E)-Caryophyllene (C137)</text>
<text transform="translate(1237.81 996.5) rotate(-90)"><tspan font-style="italic">α</tspan>-Pinene (C42)</text>
<text transform="translate(1259.13 996.5) rotate(-90)">Limonene (C69)</text>
<text transform="translate(1280.46 996.5) rotate(-90)"><tspan font-style="italic">β</tspan>-Bourbonene (132)</text>
<text transform="translate(1301.8 996.5) rotate(-90)">Bicyclogermacrene (C156)</text>
<text transform="translate(1323.12 996.5) rotate(-90)">Ethyl hex-(2<tspan font-style="italic">E</tspan>)-enoate (C70)</text>
<text transform="translate(1344.45 996.5) rotate(-90)">Ethyl heptanoate (C86)</text>
<text transform="translate(1365.78 996.5) rotate(-90)"><tspan font-style="italic">γ</tspan>-Terpinene (C72)</text>
<text transform="translate(1387.12 996.5) rotate(-90)"><tspan font-style="italic">p</tspan>-Cymene (C65)</text>
<text transform="translate(1408.44 996.5) rotate(-90)"><tspan font-style="italic">α</tspan>-Gurjunene (C136)</text>
<text transform="translate(1429.78 996.5) rotate(-90)"><tspan font-style="italic">α</tspan>-Copaene (C129)</text>
<text transform="translate(1451.11 996.5) rotate(-90)"><tspan font-style="italic">α</tspan>-Humulene (C146)</text>
<text transform="translate(1472.43 996.5) rotate(-90)">Ethyl 3-hydroxy hexanoate (C93)</text>
<text transform="translate(1493.76 996.5) rotate(-90)"><tspan font-style="italic">α</tspan>-Ylangene (C128)</text>
<text transform="translate(1515.1 996.5) rotate(-90)">Ethyl decanoate (C131)</text>
<text transform="translate(1536.42 996.5) rotate(-90)">(2<tspan font-style="italic">Z</tspan>)-butenoic acid (C20)</text>
<text transform="translate(1557.75 996.5) rotate(-90)">Ethyl 2-methylbutanoate (C23)</text>
<text transform="translate(1579.09 996.5) rotate(-90)">Ethyl tiglate (C44)</text>
<text transform="translate(1600.41 996.5) rotate(-90)">Ethyl-(4<tspan font-style="italic">E</tspan>)-octenoate (C104)</text>
<text transform="translate(1621.74 996.5) rotate(-90)">Ethyl-(4<tspan font-style="italic">E</tspan>)-decenoate (127)</text>
<text transform="translate(1643.07 996.5) rotate(-90)">Car-3-en-2-one (C113)</text>
<text transform="translate(1664.4 996.5) rotate(-90)">Ethyl tetradecanoate (C180)</text>
<text transform="translate(1685.73 996.5) rotate(-90)">Humulene epoxide II (C169)</text>
</g>
</svg>
</body></html>
